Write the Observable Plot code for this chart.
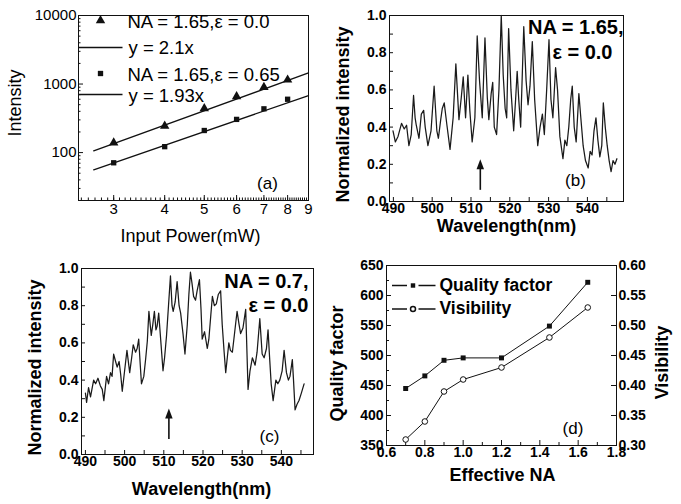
<!DOCTYPE html>
<html><head><meta charset="utf-8">
<script src="https://cdn.jsdelivr.net/npm/d3@7"></script>
<script src="https://cdn.jsdelivr.net/npm/@observablehq/plot@0.6"></script>
<style>
html,body{margin:0;padding:0;background:#fff;}
#fig{position:relative;width:681px;height:504px;background:#fff;overflow:hidden;}
</style></head><body><div id="fig"></div>
<script>
// ---------- Panel (a) data ----------
const powerMW = [3, 4, 5, 6, 7, 8];
const intensityEps0 = [139, 245, 440, 660, 900, 1150];
const intensityEps065 = [71, 122, 210, 305, 435, 600];
const fitPower = [2.68, 9];
const fitEps0 = [106, 1450];
const fitEps065 = [56, 680];
const powerTicks = [3, 4, 5, 6, 7, 8, 9];
const intensityTicks = [100, 1000, 10000];
const legendA = ["NA = 1.65,\u03b5 = 0.0", "y = 2.1x", "NA = 1.65,\u03b5 = 0.65", "y = 1.93x"];

// ---------- Panel (b) data : NA = 1.65, eps = 0.0 ----------
const wlB = [489.9,490.5,491.2,492.1,492.8,493.4,494.0,494.6,495.2,495.6,495.9,496.6,497.2,497.8,498.2,498.9,499.7,500.5,501.2,501.6,502.2,502.6,503.1,503.8,504.6,505.4,506.1,506.9,507.5,508.0,508.6,509.2,509.7,510.3,511.0,511.6,512.2,512.9,513.6,514.2,514.6,515.2,515.6,516.0,516.6,517.2,517.8,518.3,518.8,519.2,519.7,520.3,521.0,521.5,521.9,522.3,522.8,523.6,524.2,524.7,525.2,525.8,526.4,527.2,527.8,528.4,528.9,529.5,530.1,530.6,531.1,531.8,532.3,532.9,533.7,534.2,534.7,535.2,535.7,536.1,536.6,537.1,537.8,538.3,538.9,539.5,540.2,540.7,541.2,541.7,542.2,542.7,543.2,543.7,544.1,544.6,545.1,545.6,546.1,546.6,547.1,547.6];
const intB = [.38,.32,.35,.42,.39,.41,.30,.36,.57,.45,.41,.34,.47,.49,.40,.30,.38,.62,.38,.34,.44,.50,.53,.41,.28,.45,.74,.44,.56,.67,.45,.68,.49,.32,.45,.89,.65,.45,.88,.56,.44,.58,.64,.40,.36,.60,1.0,.68,.50,.45,.93,.60,.38,.55,.70,.55,.40,.94,.65,.52,.62,.86,.55,.30,.40,.47,.36,.60,.87,.55,.45,.72,.60,.35,.23,.33,.30,.40,.55,.62,.40,.32,.58,.45,.30,.22,.18,.27,.25,.38,.45,.33,.24,.30,.53,.40,.30,.22,.16,.22,.20,.23];

// ---------- Panel (c) data : NA = 0.7, eps = 0.0 ----------
const wlC = [490.0,490.3,490.8,491.3,492.1,492.6,493.2,493.8,494.3,494.7,495.4,495.9,496.4,496.8,497.2,497.7,498.1,498.6,499.0,499.4,500.0,500.6,501.3,501.8,502.2,502.8,503.2,503.6,504.0,504.3,504.9,505.4,505.8,506.2,506.8,507.2,507.6,508.0,508.3,508.7,509.2,509.8,510.2,510.7,511.2,511.7,512.1,512.4,512.9,513.4,513.9,514.3,514.9,515.4,516.0,516.4,516.8,517.2,517.6,518.1,518.5,519.1,519.5,519.8,520.4,521.1,521.5,522.0,522.4,522.9,523.4,523.9,524.5,524.9,525.4,525.8,526.2,526.6,527.0,527.5,528.1,528.7,529.2,529.6,530.2,530.9,531.5,532.0,532.6,533.3,533.8,534.5,535.1,535.6,536.2,536.6,537.0,537.4,537.9,538.6,539.1,539.6,540.2,540.7,541.3,541.8,542.2,542.8,543.1,543.5,544.0,544.5,545.1,545.8];
const intC = [.33,.28,.36,.31,.40,.38,.41,.37,.35,.29,.42,.38,.44,.42,.54,.50,.47,.50,.43,.34,.45,.56,.44,.52,.59,.55,.57,.62,.48,.38,.42,.52,.61,.77,.64,.70,.77,.67,.69,.76,.62,.45,.52,.64,.80,.96,.80,.77,.82,.93,.80,.76,.65,.54,.70,.86,.98,.92,.85,.83,.88,.94,.78,.62,.66,.57,.62,.75,.85,.80,.81,.86,.88,.70,.55,.44,.52,.60,.56,.55,.66,.77,.70,.65,.68,.78,.35,.45,.52,.48,.55,.73,.54,.52,.57,.67,.52,.38,.29,.40,.38,.40,.45,.56,.44,.40,.42,.51,.40,.24,.27,.29,.33,.38];

const wlTicks = [490, 500, 510, 520, 530, 540];
const wlMinor = [490, 495, 500, 505, 510, 515, 520, 525, 530, 535, 540, 545];
const normTicks = [0, 0.2, 0.4, 0.6, 0.8, 1.0];
const normMinor = [0, 0.1, 0.2, 0.3, 0.4, 0.5, 0.6, 0.7, 0.8, 0.9, 1.0];
const arrowB = [{x: 512.4, y1: 0.06, y2: 0.2}];
const arrowC = [{x: 511.3, y1: 0.08, y2: 0.22}];

// ---------- Panel (d) data ----------
const effectiveNA = [0.7, 0.8, 0.9, 1.0, 1.2, 1.45, 1.65];
const qualityFactor = [445, 466, 492, 496, 496, 549, 622];
const visibility = [0.31, 0.34, 0.39, 0.41, 0.43, 0.48, 0.53];
const naTicks = [0.6, 0.8, 1.0, 1.2, 1.4, 1.6, 1.8];
const naMinor = [0.7, 0.9, 1.1, 1.3, 1.5, 1.7];
const qTicks = [350, 400, 450, 500, 550, 600, 650];
const qMinor = [375, 425, 475, 525, 575, 625];
const visTicks = [0.30, 0.35, 0.40, 0.45, 0.50, 0.55, 0.60];
const legendD = ["Quality factor", "Visibility"];

// ---------- helpers ----------
const FONT = "'Liberation Sans', Arial, Helvetica, sans-serif";
const fig = document.getElementById("fig");
function mount(svg, size, weight) {
  svg.style.position = "absolute";
  svg.style.left = "0px";
  svg.style.top = "0px";
  svg.style.background = "transparent";
  svg.style.fontFamily = FONT;
  svg.style.fontSize = size + "px";
  svg.style.fontWeight = weight;
  svg.style.overflow = "visible";
  fig.appendChild(svg);
}
const hline = {draw(ctx, size) { const r = Math.sqrt(size / Math.PI); ctx.moveTo(-r, 0); ctx.lineTo(r, 0); }};
const arrowHead = {draw(ctx, size) { const r = Math.sqrt(size / Math.PI); ctx.moveTo(0, -r); ctx.lineTo(0.75 * r, r); ctx.lineTo(-0.75 * r, r); ctx.closePath(); }};
const BLACK = "#111";

// ---------- Panel (a) ----------
{
  const mL = 78, mR = 373, mT = 15, mB = 304;
  const W = 681 - mL - mR, H = 504 - mT - mB;
  const ptsA = powerMW.map((p, i) => ({p, a: intensityEps0[i], b: intensityEps065[i]}));
  const fitA = fitPower.map((p, i) => ({p, a: fitEps0[i], b: fitEps065[i]}));
  const minorX = d3.range(25, 91).map(v => v / 10);
  const minorY = [];
  [10, 100, 1000].forEach(dec => { for (let k = 2; k <= 9; k++) if (dec * k >= 20) minorY.push(dec * k); });
  const svg = Plot.plot({
    width: 681, height: 504, marginLeft: mL, marginRight: mR, marginTop: mT, marginBottom: mB,
    x: {type: "log", domain: [2.46, 9], ticks: powerTicks, tickFormat: d => String(d), tickSize: 0, tickPadding: 3, label: null},
    y: {type: "log", domain: [20, 10000], ticks: intensityTicks, tickFormat: d => String(d), tickSize: 0, tickPadding: 2, label: null},
    marks: [
      Plot.frame({stroke: BLACK}),
      Plot.tickX(minorX, {x: d => d, insetTop: H - 2.5, stroke: BLACK}),
      Plot.tickX(powerTicks, {x: d => d, insetTop: H - 5, stroke: BLACK}),
      Plot.tickY(minorY, {y: d => d, insetRight: W - 2.5, stroke: BLACK}),
      Plot.tickY(intensityTicks, {y: d => d, insetRight: W - 5, stroke: BLACK}),
      Plot.line(fitA, {x: "p", y: "a", stroke: BLACK, strokeWidth: 1.3}),
      Plot.line(fitA, {x: "p", y: "b", stroke: BLACK, strokeWidth: 1.3}),
      Plot.dot(ptsA, {x: "p", y: "a", symbol: "triangle", r: 3.5, fill: BLACK}),
      Plot.dot(ptsA, {x: "p", y: "b", symbol: "square", r: 3, fill: BLACK}),
      // legend
      Plot.dot([0], {frameAnchor: "top-left", dx: 22, dy: 5, symbol: "triangle", r: 3.5, fill: BLACK}),
      Plot.dot([0], {frameAnchor: "top-left", dx: 22, dy: 58, symbol: "square", r: 3, fill: BLACK}),
      Plot.dot([0], {frameAnchor: "top-left", dx: 22, dy: 32, symbol: hline, r: 22, stroke: BLACK, strokeWidth: 1.3, fill: "none"}),
      Plot.dot([0], {frameAnchor: "top-left", dx: 22, dy: 79, symbol: hline, r: 22, stroke: BLACK, strokeWidth: 1.3, fill: "none"}),
      Plot.text([legendA[0]], {text: d => d, frameAnchor: "top-left", dx: 49, dy: 12, textAnchor: "start", lineAnchor: "bottom", fontSize: 18.5}),
      Plot.text([legendA[1]], {text: d => d, frameAnchor: "top-left", dx: 50, dy: 38, textAnchor: "start", lineAnchor: "bottom", fontSize: 18.5}),
      Plot.text([legendA[2]], {text: d => d, frameAnchor: "top-left", dx: 49, dy: 65, textAnchor: "start", lineAnchor: "bottom", fontSize: 18.5}),
      Plot.text([legendA[3]], {text: d => d, frameAnchor: "top-left", dx: 50, dy: 86, textAnchor: "start", lineAnchor: "bottom", fontSize: 18.5}),
      Plot.text(["(a)"], {text: d => d, frameAnchor: "bottom-right", dx: -41, dy: -12, textAnchor: "middle", lineAnchor: "bottom", fontSize: 17}),
      Plot.text(["Input Power(mW)"], {text: d => d, frameAnchor: "bottom", dx: -3, dy: 41, textAnchor: "middle", lineAnchor: "bottom", fontSize: 18}),
      Plot.text(["Intensity"], {text: d => d, frameAnchor: "left", dx: -63, dy: -5, rotate: -90, textAnchor: "middle", lineAnchor: "middle", fontSize: 18})
    ]
  });
  mount(svg, 15, "normal");
}

// ---------- spectrum panels (b), (c) ----------
function spectrum(cfg) {
  const {mL, mR, mT, mB, domain, wl, val, arrow, na, eps, tag} = cfg;
  const W = 681 - mL - mR, H = 504 - mT - mB;
  const data = wl.map((x, i) => ({x, y: val[i]}));
  const svg = Plot.plot({
    width: 681, height: 504, marginLeft: mL, marginRight: mR, marginTop: mT, marginBottom: mB,
    x: {domain, ticks: wlTicks, tickFormat: d => String(d), tickSize: 0, tickPadding: 2, label: null},
    y: {domain: [0, 1], ticks: normTicks, tickFormat: d => d.toFixed(1), tickSize: 0, tickPadding: 3, label: null},
    marks: [
      Plot.frame({stroke: BLACK}),
      Plot.tickX(wlMinor, {x: d => d, insetTop: H - 4, stroke: BLACK}),
      Plot.tickY(normMinor, {y: d => d, insetRight: W - 4, stroke: BLACK}),
      Plot.line(data, {x: "x", y: "y", stroke: "#1a1a1a", strokeWidth: 1.25}),
      Plot.ruleX(arrow, {x: "x", y1: "y1", y2: "y2", stroke: BLACK, strokeWidth: 1.6}),
      Plot.dot(arrow, {x: "x", y: "y2", symbol: arrowHead, r: 5, fill: BLACK, stroke: "none"}),
      Plot.text([na.t], {text: d => d, frameAnchor: "top-right", dx: na.dx, dy: na.dy, textAnchor: "end", lineAnchor: "bottom", fontSize: 20, fontWeight: "bold"}),
      Plot.text([eps.t], {text: d => d, frameAnchor: "top-right", dx: eps.dx, dy: eps.dy, textAnchor: "end", lineAnchor: "bottom", fontSize: 20, fontWeight: "bold"}),
      Plot.text([tag.t], {text: d => d, frameAnchor: "bottom-right", dx: tag.dx, dy: tag.dy, textAnchor: "middle", lineAnchor: "bottom", fontSize: 17, fontWeight: "normal"}),
      Plot.text(["Wavelength(nm)"], {text: d => d, frameAnchor: "bottom", dx: cfg.xtDx, dy: cfg.xtDy, textAnchor: "middle", lineAnchor: "bottom", fontSize: 18, fontWeight: "bold"}),
      Plot.text(["Normalized intensity"], {text: d => d, frameAnchor: "left", dx: -46, dy: 6, rotate: -90, textAnchor: "middle", lineAnchor: "middle", fontSize: 18, fontWeight: "bold"})
    ]
  });
  mount(svg, 14, "bold");
}
spectrum({mL: 389, mR: 58, mT: 15, mB: 303, domain: [489, 549.3], wl: wlB, val: intB, arrow: arrowB,
  na: {t: "NA = 1.65,", dx: 0, dy: 18}, eps: {t: "\u03b5 = 0.0", dx: -11, dy: 43}, tag: {t: "(b)", dx: -48, dy: -16}, xtDx: 0, xtDy: 30});
spectrum({mL: 81, mR: 368, mT: 268, mB: 50, domain: [489, 548.2], wl: wlC, val: intC, arrow: arrowC,
  na: {t: "NA = 0.7,", dx: -5, dy: 19}, eps: {t: "\u03b5 = 0.0", dx: -5, dy: 43.5}, tag: {t: "(c)", dx: -44, dy: -13}, xtDx: 4, xtDy: 40});

// ---------- Panel (d) ----------
{
  const mL = 386, mR = 65, mT = 265, mB = 59;
  const W = 681 - mL - mR, H = 504 - mT - mB;
  const visToQ = v => 350 + (v - 0.3) * 1000;
  const dataD = effectiveNA.map((n, i) => ({n, q: qualityFactor[i], v: visToQ(visibility[i])}));
  const svg = Plot.plot({
    width: 681, height: 504, marginLeft: mL, marginRight: mR, marginTop: mT, marginBottom: mB,
    x: {domain: [0.6, 1.8], ticks: naTicks, tickFormat: d => d.toFixed(1), tickSize: 0, tickPadding: 2, label: null},
    y: {domain: [350, 650], ticks: qTicks, tickFormat: d => String(d), tickSize: 0, tickPadding: 3, label: null},
    marks: [
      Plot.frame({stroke: BLACK}),
      Plot.tickX(naTicks, {x: d => d, insetTop: H - 5, stroke: BLACK}),
      Plot.tickX(naMinor, {x: d => d, insetTop: H - 3, stroke: BLACK}),
      Plot.tickY(qTicks, {y: d => d, insetRight: W - 5, stroke: BLACK}),
      Plot.tickY(qMinor, {y: d => d, insetRight: W - 3, stroke: BLACK}),
      Plot.tickY(visTicks, {y: d => visToQ(d), insetLeft: W - 5, stroke: BLACK}),
      Plot.text(visTicks, {y: d => visToQ(d), text: d => d.toFixed(2), frameAnchor: "right", dx: 2, textAnchor: "start", fontSize: 14, fontWeight: "bold"}),
      Plot.line(dataD, {x: "n", y: "q", stroke: BLACK, strokeWidth: 1}),
      Plot.line(dataD, {x: "n", y: "v", stroke: BLACK, strokeWidth: 1}),
      Plot.dot(dataD, {x: "n", y: "q", symbol: "square", r: 2.8, fill: BLACK}),
      Plot.dot(dataD, {x: "n", y: "v", r: 2.8, fill: "white", stroke: BLACK, strokeWidth: 1}),
      // legend
      Plot.dot([0], {frameAnchor: "top-left", dx: 13, dy: 20, symbol: hline, r: 7.5, stroke: BLACK, fill: "none"}),
      Plot.dot([0], {frameAnchor: "top-left", dx: 40.5, dy: 20, symbol: hline, r: 8.5, stroke: BLACK, fill: "none"}),
      Plot.dot([0], {frameAnchor: "top-left", dx: 26.5, dy: 20, symbol: "square", r: 2.5, fill: BLACK}),
      Plot.dot([0], {frameAnchor: "top-left", dx: 13, dy: 43.5, symbol: hline, r: 7.5, stroke: BLACK, fill: "none"}),
      Plot.dot([0], {frameAnchor: "top-left", dx: 40.5, dy: 43.5, symbol: hline, r: 8.5, stroke: BLACK, fill: "none"}),
      Plot.dot([0], {frameAnchor: "top-left", dx: 26.5, dy: 43.5, r: 2.5, fill: "white", stroke: BLACK}),
      Plot.text([legendD[0]], {text: d => d, frameAnchor: "top-left", dx: 53, dy: 25, textAnchor: "start", lineAnchor: "bottom", fontSize: 17.5, fontWeight: "bold"}),
      Plot.text([legendD[1]], {text: d => d, frameAnchor: "top-left", dx: 53, dy: 48, textAnchor: "start", lineAnchor: "bottom", fontSize: 17.5, fontWeight: "bold"}),
      Plot.text(["(d)"], {text: d => d, frameAnchor: "bottom-right", dx: -43.5, dy: -12, textAnchor: "middle", lineAnchor: "bottom", fontSize: 17, fontWeight: "normal"}),
      Plot.text(["Effective NA"], {text: d => d, frameAnchor: "bottom", dx: 1, dy: 35, textAnchor: "middle", lineAnchor: "bottom", fontSize: 18, fontWeight: "bold"}),
      Plot.text(["Quality factor"], {text: d => d, frameAnchor: "left", dx: -49, dy: 8, rotate: -90, textAnchor: "middle", lineAnchor: "middle", fontSize: 18, fontWeight: "bold"}),
      Plot.text(["Visibility"], {text: d => d, frameAnchor: "right", dx: 46, dy: 7, rotate: -90, textAnchor: "middle", lineAnchor: "middle", fontSize: 18, fontWeight: "bold"})
    ]
  });
  mount(svg, 14, "bold");
}
</script></body></html>
